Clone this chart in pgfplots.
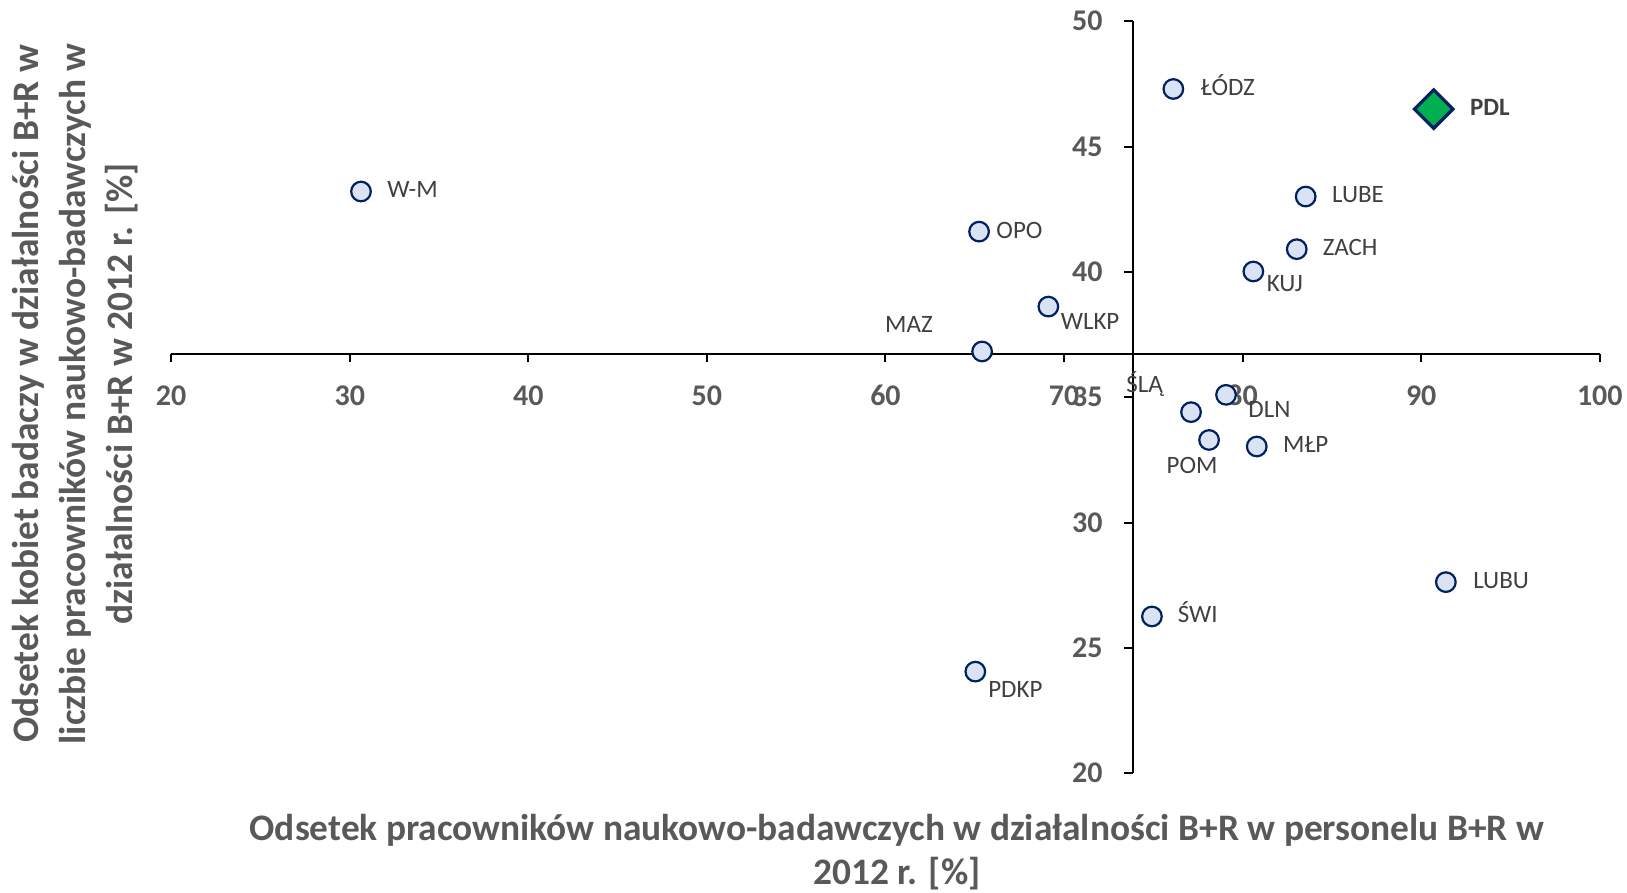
\documentclass[border=0pt]{standalone}
\usepackage{fontspec}
\setmainfont{Carlito}
\usepackage{pgfplots}
\pgfplotsset{compat=1.18}
\definecolor{txt}{HTML}{595959}
\definecolor{lbl}{HTML}{404040}
\definecolor{navy}{HTML}{002060}
\definecolor{fillb}{HTML}{DAE3F3}
\definecolor{grn}{HTML}{00B050}
\tikzset{
  lab/.style={inner sep=0pt, text height=0.644em, text depth=0pt, text=lbl, font=\fontsize{12.5}{15}\selectfont},
  tlab/.style={inner sep=0pt, text=txt, font=\fontsize{15}{18}\selectfont\bfseries},
}
\begin{document}
\begin{tikzpicture}
\begin{axis}[
  at={(0pt,0pt)}, anchor=south west,
  scale only axis, width=714.4pt, height=376.1pt,
  xmin=20, xmax=100, ymin=20, ymax=50,
  axis lines=none, clip=false,
]
% axis lines (crossing at 73.86 ; 36.73)
\draw[line width=1pt, black] (axis cs:20,36.73) -- (axis cs:100,36.73);
\draw[line width=1pt, black] (axis cs:73.86,20) -- (axis cs:73.86,50);
\pgfplotsinvokeforeach{20,30,40,50,60,70,80,90,100}{
  \draw[line width=1pt, black] (axis cs:#1,36.73) -- ++(0pt,-4pt);
  \node[tlab, anchor=base] at (axis cs:#1,36.73) [yshift=-26pt] {#1};
}
\pgfplotsinvokeforeach{20,25,30,35,40,45,50}{
  \draw[line width=1pt, black] (axis cs:73.86,#1) -- ++(-4.5pt,0pt);
  \node[tlab, anchor=base east] at (axis cs:73.86,#1) [xshift=-15pt, yshift=-4.75pt] {#1};
}
\addplot[only marks, mark=*, mark size=4.9pt,
  mark options={draw=navy, fill=fillb, line width=1.1pt}] coordinates {
  (30.63,43.21) (76.12,47.30) (83.53,43.01) (65.24,41.61) (83.03,40.91)
  (80.60,40.02) (69.12,38.62) (65.41,36.83) (79.07,35.10) (77.11,34.41)
  (78.12,33.30) (80.79,33.04) (91.38,27.63) (74.92,26.26) (65.03,24.06)
};
\addplot[only marks, mark=square*, mark size=6.8pt,
  mark options={draw=navy, fill=grn, line width=1.6pt, rotate=45}] coordinates {
  (90.70,46.50)
};
% data labels
\node[lab, anchor=west] at (axis cs:30.63,43.21) [xshift=13pt] {W-M};
\node[lab, anchor=west] at (axis cs:76.12,47.30) [xshift=13.5pt] {ŁÓDZ};
\node[lab, anchor=west, font=\fontsize{12.5}{15}\selectfont\bfseries] at (axis cs:90.70,46.50) [xshift=18pt] {PDL};
\node[lab, anchor=west] at (axis cs:83.53,43.01) [xshift=13pt] {LUBE};
\node[lab, anchor=west] at (axis cs:65.24,41.61) [xshift=8.5pt] {OPO};
\node[lab, anchor=west] at (axis cs:83.03,40.91) [xshift=12.8pt] {ZACH};
\node[lab, anchor=west] at (axis cs:80.60,40.02) [xshift=6.5pt, yshift=-6.7pt] {KUJ};
\node[lab, anchor=west] at (axis cs:69.12,38.62) [xshift=6pt, yshift=-8pt] {WLKP};
\node[lab, anchor=east] at (axis cs:65.41,36.83) [xshift=-24.5pt, yshift=12.5pt] {MAZ};
\node[lab, anchor=west] at (axis cs:79.07,35.10) [xshift=11pt, yshift=-8pt] {DLN};
\node[lab, anchor=center] at (axis cs:77.11,34.41) [xshift=-23.25pt, yshift=13pt] {ŚLĄ};
\node[lab, anchor=center] at (axis cs:78.12,33.30) [xshift=-8.5pt, yshift=-13.5pt] {POM};
\node[lab, anchor=west] at (axis cs:80.79,33.04) [xshift=13pt] {MŁP};
\node[lab, anchor=west] at (axis cs:91.38,27.63) [xshift=13.5pt] {LUBU};
\node[lab, anchor=west] at (axis cs:74.92,26.26) [xshift=12.8pt] {ŚWI};
\node[lab, anchor=west] at (axis cs:65.03,24.06) [xshift=6.3pt, yshift=-9.6pt] {PDKP};
\end{axis}
% axis titles
\node[align=center, text=txt, font=\fontsize{18.7}{22}\selectfont\bfseries]
  at (362.9pt,-39.5pt) {Odsetek pracowników naukowo-badawczych w działalności B+R w personelu B+R w\\2012 r. [\%]};
\node[align=center, rotate=90, text=txt, font=\fontsize{18.7}{23.5}\selectfont\bfseries]
  at (-48.1pt,189.75pt) {Odsetek kobiet badaczy w działalności B+R w\\liczbie pracowników naukowo-badawczych w\\działalności B+R w 2012 r. [\%]};
\pgfresetboundingbox
\path[use as bounding box] (-85.6pt,-59.75pt) rectangle (728pt,386.75pt);
\end{tikzpicture}
\end{document}
